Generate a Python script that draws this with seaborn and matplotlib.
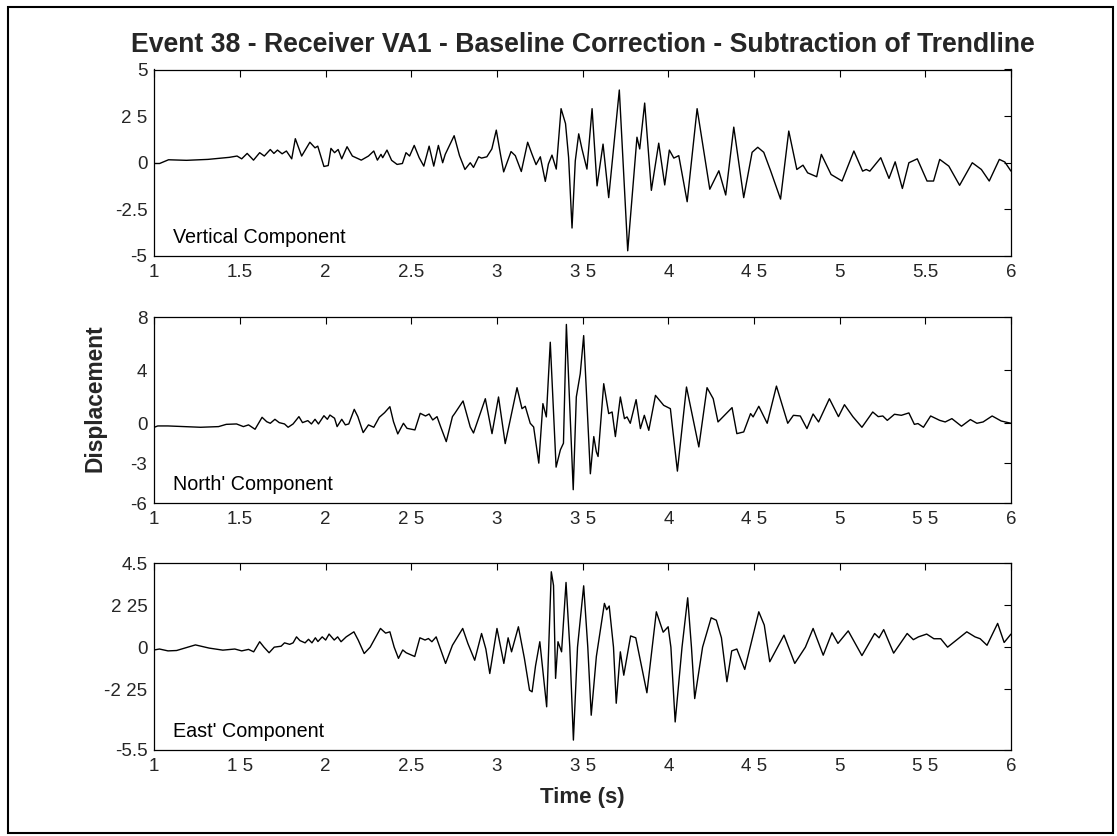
import matplotlib
matplotlib.use("Agg")
import matplotlib.pyplot as plt
import matplotlib.patches as mpatches
import seaborn as sns
import pandas as pd

# ---------------- data ----------------
title = "Event 38 - Receiver VA1 - Baseline Correction - Subtraction of Trendline"
components = ["Vertical Component", "North' Component", "East' Component"]

t_vert = [1.000, 1.031, 1.083, 1.188, 1.313, 1.438, 1.483, 1.510, 1.542, 1.579,
          1.615, 1.642, 1.677, 1.698, 1.719, 1.746, 1.771, 1.802, 1.823, 1.860,
          1.908, 1.938, 1.954, 1.990, 2.015, 2.031, 2.052, 2.073, 2.094, 2.125,
          2.156, 2.208, 2.250, 2.281, 2.302, 2.323, 2.333, 2.358, 2.385, 2.417,
          2.448, 2.469, 2.490, 2.517, 2.546, 2.573, 2.604, 2.631, 2.658, 2.683,
          2.698, 2.750, 2.781, 2.813, 2.844, 2.863, 2.893, 2.910, 2.941, 2.970,
          2.996, 3.020, 3.039, 3.062, 3.082, 3.107, 3.142, 3.179, 3.204, 3.228,
          3.253, 3.282, 3.300, 3.321, 3.346, 3.374, 3.400, 3.418, 3.438, 3.457,
          3.477, 3.496, 3.525, 3.555, 3.584, 3.619, 3.652, 3.714, 3.763, 3.817,
          3.833, 3.862, 3.901, 3.944, 3.979, 4.006, 4.032, 4.061, 4.110, 4.168,
          4.242, 4.295, 4.335, 4.382, 4.440, 4.489, 4.522, 4.557, 4.597, 4.655,
          4.703, 4.750, 4.786, 4.813, 4.866, 4.893, 4.950, 5.014, 5.083, 5.134,
          5.155, 5.176, 5.240, 5.288, 5.324, 5.366, 5.404, 5.453, 5.510, 5.548,
          5.584, 5.637, 5.700, 5.774, 5.827, 5.873, 5.932, 5.964, 6.000]
v_vert = [-0.04, -0.04, 0.16, 0.13, 0.18, 0.29, 0.36, 0.21, 0.50, 0.14,
          0.54, 0.36, 0.71, 0.50, 0.68, 0.48, 0.63, 0.21, 1.29, 0.36,
          1.10, 0.80, 0.89, -0.20, -0.15, 0.77, 0.54, 0.71, 0.21, 0.86,
          0.36, 0.14, 0.36, 0.63, 0.14, 0.45, 0.27, 0.68, 0.13, -0.09,
          -0.04, 0.54, 0.36, 0.93, 0.27, -0.18, 0.89, -0.18, 0.93, 0.00,
          0.45, 1.45, 0.39, -0.36, 0.00, -0.25, 0.32, 0.25, 0.32, 0.74,
          1.75, 0.47, -0.49, 0.10, 0.60, 0.38, -0.47, 1.10, 0.47, -0.10,
          0.32, -1.00, -0.07, 0.41, -0.34, 2.90, 2.10, 0.29, -3.50, 0.10,
          1.55, 0.74, -0.34, 2.90, -1.24, 1.00, -1.87, 3.90, -4.72, 1.37,
          0.74, 3.20, -1.48, 1.05, -1.19, 0.68, 0.25, 0.38, -2.09, 2.90,
          -1.42, -0.43, -1.73, 1.91, -1.87, 0.56, 0.83, 0.56, -0.43, -1.95,
          1.70, -0.36, -0.13, -0.54, -0.75, 0.45, -0.63, -0.98, 0.63, -0.45,
          -0.36, -0.45, 0.27, -0.84, 0.05, -1.38, 0.00, 0.21, -0.98, -0.98,
          0.18, -0.18, -1.21, 0.00, -0.36, -0.98, 0.18, 0.04, -0.45]

t_north = [1.000, 1.020, 1.080, 1.270, 1.375, 1.420, 1.480, 1.520, 1.550, 1.588,
           1.629, 1.656, 1.677, 1.704, 1.729, 1.760, 1.781, 1.810, 1.844, 1.865,
           1.896, 1.917, 1.938, 1.958, 1.990, 2.010, 2.025, 2.052, 2.067, 2.094,
           2.115, 2.135, 2.167, 2.188, 2.219, 2.250, 2.281, 2.313, 2.344, 2.375,
           2.396, 2.421, 2.454, 2.475, 2.521, 2.552, 2.583, 2.604, 2.625, 2.650,
           2.671, 2.704, 2.740, 2.754, 2.802, 2.844, 2.863, 2.932, 2.971, 3.009,
           3.048, 3.117, 3.146, 3.165, 3.194, 3.214, 3.244, 3.268, 3.288, 3.311,
           3.345, 3.370, 3.388, 3.405, 3.445, 3.463, 3.486, 3.506, 3.545, 3.565,
           3.580, 3.590, 3.623, 3.652, 3.672, 3.691, 3.720, 3.744, 3.759, 3.778,
           3.812, 3.837, 3.860, 3.886, 3.925, 3.973, 4.012, 4.053, 4.106, 4.178,
           4.226, 4.262, 4.290, 4.372, 4.400, 4.440, 4.480, 4.495, 4.528, 4.577,
           4.631, 4.697, 4.730, 4.770, 4.809, 4.845, 4.877, 4.940, 4.993, 5.028,
           5.077, 5.130, 5.193, 5.225, 5.252, 5.278, 5.320, 5.360, 5.404, 5.436,
           5.457, 5.489, 5.531, 5.584, 5.616, 5.655, 5.711, 5.763, 5.801, 5.837,
           5.890, 5.943, 6.000]
v_north = [-0.30, -0.20, -0.20, -0.30, -0.25, -0.08, -0.05, -0.25, -0.12, -0.45,
           0.45, 0.12, 0.00, 0.30, 0.05, -0.05, -0.30, -0.05, 0.50, 0.05,
           0.20, -0.05, 0.30, -0.05, 0.57, 0.30, 0.62, 0.38, -0.25, 0.30,
           -0.12, -0.05, 1.05, 0.50, -0.70, -0.12, -0.30, 0.45, 0.80, 1.25,
           0.12, -0.80, 0.00, -0.38, -0.50, 0.75, 0.55, 0.70, 0.25, 0.50,
           -0.25, -1.38, 0.50, 0.75, 1.68, -0.28, -0.73, 1.85, -0.78, 1.98,
           -1.53, 2.68, 1.10, 1.28, 0.00, -0.28, -3.00, 1.48, 0.48, 6.10,
           -3.30, -2.00, -1.50, 7.44, -5.00, 1.98, 3.73, 6.60, -3.80, -1.00,
           -2.15, -2.50, 2.98, 0.73, 0.85, -1.00, 1.98, 0.35, 0.48, 0.00,
           1.78, -0.40, 0.60, -0.53, 2.10, 1.35, 1.10, -3.60, 2.73, -1.78,
           2.68, 1.85, 0.10, 1.18, -0.78, -0.65, 0.73, 0.48, 1.28, 0.00,
           2.80, 0.00, 0.60, 0.55, -0.40, 0.70, 0.10, 1.85, 0.50, 1.40,
           0.50, -0.30, 0.85, 0.50, 0.55, 0.22, 0.68, 0.60, 0.78, -0.08,
           -0.02, -0.30, 0.55, 0.22, 0.10, 0.35, -0.22, 0.28, 0.00, 0.10,
           0.55, 0.17, 0.00]

t_east = [1.000, 1.030, 1.080, 1.130, 1.240, 1.320, 1.400, 1.470, 1.510, 1.550,
          1.580, 1.615, 1.640, 1.670, 1.700, 1.740, 1.760, 1.790, 1.810, 1.830,
          1.850, 1.880, 1.900, 1.920, 1.940, 1.955, 1.980, 2.000, 2.020, 2.050,
          2.070, 2.090, 2.120, 2.165, 2.190, 2.225, 2.260, 2.320, 2.350, 2.375,
          2.400, 2.425, 2.450, 2.470, 2.520, 2.550, 2.580, 2.600, 2.620, 2.645,
          2.670, 2.700, 2.740, 2.800, 2.830, 2.870, 2.910, 2.935, 2.958, 3.000,
          3.040, 3.065, 3.085, 3.125, 3.160, 3.190, 3.205, 3.225, 3.250, 3.290,
          3.317, 3.330, 3.342, 3.356, 3.377, 3.403, 3.425, 3.446, 3.470, 3.506,
          3.530, 3.550, 3.580, 3.627, 3.640, 3.655, 3.680, 3.696, 3.720, 3.740,
          3.780, 3.810, 3.875, 3.930, 3.970, 3.999, 4.015, 4.040, 4.080, 4.113,
          4.135, 4.154, 4.200, 4.250, 4.280, 4.310, 4.342, 4.370, 4.400, 4.446,
          4.528, 4.560, 4.592, 4.675, 4.738, 4.800, 4.845, 4.904, 4.955, 4.990,
          5.050, 5.130, 5.204, 5.230, 5.257, 5.315, 5.394, 5.430, 5.460, 5.508,
          5.550, 5.590, 5.630, 5.742, 5.790, 5.820, 5.860, 5.922, 5.960, 6.000]
v_east = [-0.15, -0.10, -0.20, -0.18, 0.12, -0.05, -0.16, -0.10, -0.20, -0.12,
          -0.25, 0.29, 0.00, -0.30, 0.00, 0.05, 0.23, 0.15, 0.23, 0.55,
          0.35, 0.23, 0.42, 0.23, 0.50, 0.30, 0.55, 0.38, 0.70, 0.38,
          0.55, 0.29, 0.55, 0.82, 0.38, -0.34, 0.00, 1.00, 0.75, 0.82,
          0.00, -0.60, -0.15, -0.30, -0.50, 0.50, 0.38, 0.46, 0.29, 0.55,
          -0.10, -0.87, 0.10, 1.00, 0.20, -0.70, 0.73, -0.10, -1.41, 1.00,
          -0.87, 0.50, -0.25, 1.09, -0.60, -2.30, -2.39, -1.00, 0.29, -3.19,
          4.03, 3.30, -1.67, 0.29, -0.25, 3.46, 0.00, -4.97, 0.00, 3.28,
          0.00, -3.64, -0.50, 2.34, 2.00, 2.20, 0.00, -3.00, -0.25, -1.50,
          0.60, 0.50, -2.44, 1.89, 0.80, 1.09, 0.00, -4.00, 0.00, 2.64,
          0.00, -2.75, 0.00, 1.57, 1.44, 0.50, -1.85, -0.20, -0.10, -1.19,
          1.89, 1.18, -0.78, 0.64, -0.87, 0.00, 1.00, -0.43, 0.77, 0.20,
          0.87, -0.45, 0.73, 0.50, 0.94, -0.32, 0.73, 0.40, 0.55, 0.70,
          0.45, 0.45, 0.00, 0.82, 0.55, 0.45, 0.10, 1.27, 0.25, 0.70]

x_ticks = [1, 1.5, 2, 2.5, 3, 3.5, 4, 4.5, 5, 5.5, 6]
x_ticklabels = [
    ["1", "1.5", "2", "2.5", "3", "3 5", "4", "4 5", "5", "5.5", "6"],
    ["1", "1.5", "2", "2 5", "3", "3 5", "4", "4 5", "5", "5 5", "6"],
    ["1", "1 5", "2", "2.5", "3", "3 5", "4", "4 5", "5", "5 5", "6"],
]
y_limits = [(-5, 5), (-6, 8), (-5.5, 4.5)]
y_ticks = [[5, 2.5, 0, -2.5, -5], [8, 4, 0, -3, -6], [4.5, 2.25, 0, -2.25, -5.5]]
y_ticklabels = [["5", "2 5", "0", "-2.5", "-5"],
                ["8", "4", "0", "-3", "-6"],
                ["4.5", "2 25", "0", "-2 25", "-5.5"]]

# ---------------- figure ----------------
sns.set_style("white")
plt.rcParams['font.family'] = ['Liberation Sans', 'DejaVu Sans']

W, H = 1117, 836
fig = plt.figure(figsize=(W / 100, H / 100), dpi=100)

left_px, right_px = 154.3, 1011
ax_rows = [(69.5, 256), (317, 503), (563, 750)]

series = [(t_vert, v_vert), (t_north, v_north), (t_east, v_east)]
axes = []
for i, ((top, bot), (tt, vv)) in enumerate(zip(ax_rows, series)):
    ax = fig.add_axes([left_px / W, 1 - bot / H, (right_px - left_px) / W, (bot - top) / H])
    df = pd.DataFrame({"t": tt, "v": vv})
    sns.lineplot(data=df, x="t", y="v", ax=ax, color="black", linewidth=1.0,
                 estimator=None, sort=True)
    ax.set_xlim(1, 6)
    ax.set_ylim(*y_limits[i])
    ax.set_xticks(x_ticks)
    ax.set_xticklabels(x_ticklabels[i])
    ax.set_yticks(y_ticks[i])
    ax.set_yticklabels(y_ticklabels[i])
    ax.set_xlabel("")
    ax.set_ylabel("")
    ax.tick_params(direction="in", length=5, width=0.8, color="black",
                   labelsize=13.5, top=True, right=True, pad=6)
    ax.tick_params(axis="y", pad=5)
    for sp in ax.spines.values():
        sp.set_visible(True)
        sp.set_color("black")
        sp.set_linewidth(0.9)
    ax.text(0.022, 0.07, components[i], transform=ax.transAxes, fontsize=14.2,
            ha="left", va="baseline", color="black")
    axes.append(ax)

cx = (left_px + right_px) / 2 / W
fig.text(cx, 1 - 52 / H, title, ha="center", va="baseline",
         fontsize=19.2, fontweight="bold")
fig.text(95 / W, 1 - 398 / H, "Displacement", rotation=90, ha="center",
         va="center", fontsize=16.4, fontweight="bold")
fig.text(cx, 1 - 798 / H, "Time (s)", ha="center", va="center",
         fontsize=16, fontweight="bold")

# outer frame
fig.patches.append(mpatches.Rectangle((8 / W, 1 - 833 / H), (1113 - 8) / W, (833 - 7) / H,
                                      transform=fig.transFigure, fill=False,
                                      edgecolor="black", linewidth=1.5))

fig.savefig("out.png", dpi=100, facecolor="white")
